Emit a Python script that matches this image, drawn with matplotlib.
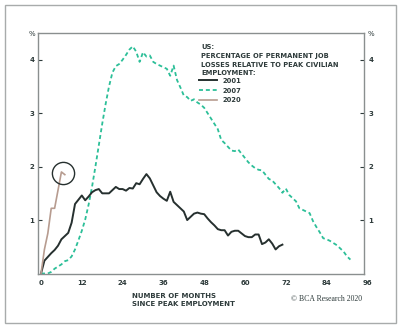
import matplotlib
matplotlib.use("Agg")
import matplotlib.pyplot as plt
from matplotlib.patches import Rectangle
import numpy as np

# ---- data ----
months_2001 = list(range(0, 72))
loss_2001 = [0.00, 0.24, 0.31, 0.38, 0.44, 0.52, 0.64, 0.70, 0.76, 0.95,
             1.30, 1.38, 1.46, 1.37, 1.44, 1.52, 1.56, 1.58, 1.50, 1.50,
             1.50, 1.56, 1.62, 1.58, 1.58, 1.55, 1.60, 1.59, 1.69, 1.67,
             1.77, 1.86, 1.78, 1.65, 1.52, 1.45, 1.40, 1.36, 1.53, 1.34,
             1.28, 1.22, 1.16, 1.00, 1.06, 1.12, 1.14, 1.12, 1.11, 1.03,
             0.96, 0.90, 0.83, 0.81, 0.81, 0.71, 0.78, 0.80, 0.80, 0.75,
             0.70, 0.68, 0.68, 0.73, 0.73, 0.55, 0.58, 0.64, 0.56, 0.45,
             0.51, 0.54]

months_2007 = list(range(0, 92))
loss_2007 = [0.00, 0.00, 0.00, 0.03, 0.09, 0.13, 0.17, 0.23, 0.25, 0.32,
             0.45, 0.62, 0.80, 1.01, 1.29, 1.62, 2.00, 2.40, 2.80, 3.17,
             3.50, 3.76, 3.88, 3.92, 4.00, 4.09, 4.19, 4.25, 4.15, 3.96,
             4.14, 4.06, 4.08, 3.96, 3.92, 3.89, 3.86, 3.83, 3.70, 3.89,
             3.62, 3.48, 3.33, 3.30, 3.23, 3.26, 3.20, 3.16, 3.10, 3.00,
             2.90, 2.80, 2.70, 2.50, 2.44, 2.37, 2.30, 2.29, 2.32, 2.24,
             2.16, 2.08, 2.02, 1.97, 1.94, 1.93, 1.85, 1.77, 1.74, 1.67,
             1.60, 1.51, 1.59, 1.47, 1.41, 1.35, 1.22, 1.19, 1.16, 1.13,
             0.98, 0.87, 0.77, 0.66, 0.64, 0.61, 0.57, 0.53, 0.47, 0.41,
             0.32, 0.26]

months_2020 = [0, 1, 2, 3, 4, 5, 6, 7]
loss_2020 = [0.00, 0.45, 0.75, 1.22, 1.22, 1.56, 1.90, 1.85]

x_ticks = [0, 12, 24, 36, 48, 60, 72, 84]
x_tick_extra = 96
y_ticks = [1, 2, 3, 4]
series_labels = ["2001", "2007", "2020"]

# ---- style ----
TXT = "#2e3b3b"
C2001 = "#26302f"
C2007 = "#2cbf98"
C2020 = "#b79c90"
SPINE = "#8a8f8f"
FONT = "DejaVu Sans"
TICK_FS = 5.0

W, H = 403, 330
fig = plt.figure(figsize=(W / 100, H / 100), dpi=100)
fig.patch.set_facecolor("white")

def fx(px):
    return px / W

def fy(py):
    return 1 - py / H

ax = fig.add_axes([fx(38.3), fy(273.5), fx(364) - fx(38.3), fy(33) - fy(273.5)])
ax.set_xlim(-0.8, 95)
ax.set_ylim(0, 4.5)

ax.plot(months_2001, loss_2001, color=C2001, lw=1.4, label=series_labels[0], zorder=3)
ax.plot(months_2007, loss_2007, color=C2007, lw=1.3, ls=(0, (2.2, 1.6)),
        label=series_labels[1], zorder=2)
ax.plot(months_2020, loss_2020, color=C2020, lw=1.2, label=series_labels[2], zorder=4)

# circle highlighting the latest 2020 reading
cx = np.mean(months_2020[-2:])
cy = np.mean(loss_2020[-2:])
ax.plot([cx], [cy], marker="o", ms=16, mfc="none", mec=C2001, mew=1.0, zorder=5)

for s in ax.spines.values():
    s.set_color(SPINE)
    s.set_linewidth(1.0)

ax.set_xticks(x_ticks)
ax.set_xticklabels([str(t) for t in x_ticks])
ax.tick_params(axis="x", length=0, pad=5, labelsize=TICK_FS, labelcolor=TXT)
ax.set_yticks(y_ticks)
ax.set_yticklabels([str(t) for t in y_ticks])
ax.tick_params(axis="y", direction="in", length=3, width=0.8, color=TXT,
               left=True, right=True, labelleft=True, labelright=True,
               pad=3, labelsize=TICK_FS, labelcolor=TXT)
for lab in ax.get_xticklabels() + ax.get_yticklabels():
    lab.set_fontfamily(FONT)
    lab.set_fontweight("bold")

# extra 96 label beyond the right limit (same offset as the other tick labels)
ax.annotate(str(x_tick_extra), xy=(x_tick_extra, 0), xycoords=("data", "axes fraction"),
            xytext=(0, -5), textcoords="offset points", ha="center", va="top",
            fontsize=TICK_FS, fontweight="bold", family=FONT, color=TXT,
            annotation_clip=False)

# % unit labels
fig.text(fx(31.7), fy(34), "%", ha="center", va="center", fontsize=5.0,
         family=FONT, color=TXT)
fig.text(fx(371), fy(34), "%", ha="center", va="center", fontsize=5.0,
         family=FONT, color=TXT)

# legend title
title_lines = ["US:", "PERCENTAGE OF PERMANENT JOB",
               "LOSSES RELATIVE TO PEAK CIVILIAN", "EMPLOYMENT:"]
title_y = [46.7, 56.3, 64.6, 73.0]
for t, yy in zip(title_lines, title_y):
    fig.text(fx(201), fy(yy), t, ha="left", va="center", fontsize=4.9,
             fontweight="bold", family=FONT, color=TXT)

leg = ax.legend(loc="upper left", bbox_to_anchor=(fx(199), fy(77.8)),
                bbox_transform=fig.transFigure, frameon=False,
                prop={"family": FONT, "weight": "bold", "size": 4.9},
                handlelength=2.6, handletextpad=0.8, labelspacing=0.55,
                borderpad=0, borderaxespad=0)
for txt in leg.get_texts():
    txt.set_color(TXT)

# x axis label
fig.text(fx(132), fy(296), "NUMBER OF MONTHS", ha="left", va="center",
         fontsize=5.0, fontweight="bold", family=FONT, color=TXT)
fig.text(fx(132), fy(304.5), "SINCE PEAK EMPLOYMENT", ha="left", va="center",
         fontsize=5.0, fontweight="bold", family=FONT, color=TXT)

# source
fig.text(fx(362), fy(299), "\u00a9 BCA Research 2020", ha="right", va="center",
         fontsize=5.6, family="Liberation Serif", color=TXT)

# outer frame
fig.add_artist(Rectangle((fx(4.7), fy(323.3)), fx(396) - fx(4.7), fy(4.7) - fy(323.3),
                         transform=fig.transFigure, fill=False, ec="#a8abab", lw=1.0))

fig.savefig("out.png", dpi=100)
